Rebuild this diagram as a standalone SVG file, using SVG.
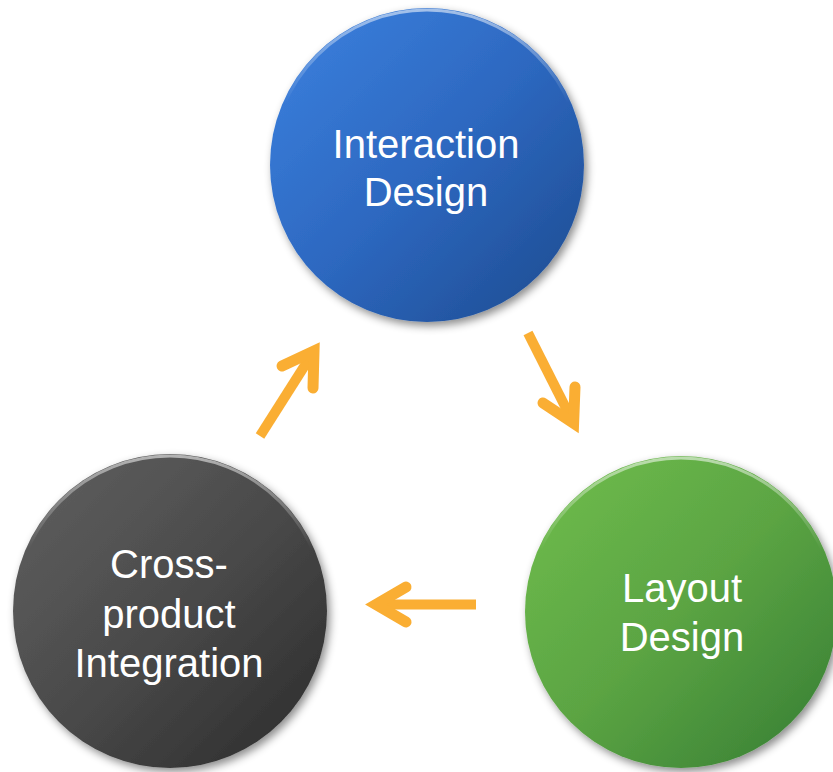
<svg xmlns="http://www.w3.org/2000/svg" width="833" height="772" viewBox="0 0 833 772">
<defs>
<style>
.lbl{font-family:"Liberation Sans",Arial,sans-serif;font-size:40px;fill:#ffffff;text-anchor:middle}
.arr{fill:none;stroke:#FAAE33;stroke-width:11;stroke-linecap:round;stroke-linejoin:miter;stroke-miterlimit:10}
.shaft{fill:none;stroke:#FAAE33;stroke-width:10;stroke-linecap:butt}
.rim{fill:none;stroke:url(#rimG);stroke-width:3}
</style>
<filter id="sh" x="-20%" y="-20%" width="140%" height="140%">
<feDropShadow dx="3" dy="4" stdDeviation="4" flood-color="#000" flood-opacity="0.45"/>
</filter>
<linearGradient id="blueG" x1="0" y1="0" x2="1" y2="1">
<stop offset="0" stop-color="#3c82e0"/>
<stop offset="0.5" stop-color="#2d68c0"/>
<stop offset="1" stop-color="#1d4a8e"/>
</linearGradient>
<linearGradient id="greenG" x1="0" y1="0" x2="1" y2="1">
<stop offset="0" stop-color="#70be4c"/>
<stop offset="0.5" stop-color="#5ba443"/>
<stop offset="1" stop-color="#357c33"/>
</linearGradient>
<linearGradient id="darkG" x1="0" y1="0" x2="1" y2="1">
<stop offset="0" stop-color="#616161"/>
<stop offset="0.5" stop-color="#4a4a4a"/>
<stop offset="1" stop-color="#2a2a2a"/>
</linearGradient>
<linearGradient id="rimG" x1="0" y1="0" x2="0" y2="1">
<stop offset="0" stop-color="#ffffff" stop-opacity="0.55"/>
<stop offset="0.3" stop-color="#ffffff" stop-opacity="0"/>
<stop offset="1" stop-color="#ffffff" stop-opacity="0"/>
</linearGradient>
</defs>
<g id="node-interaction">
<circle cx="427" cy="165" r="157" fill="url(#blueG)" filter="url(#sh)"/>
<circle class="rim" cx="427" cy="165" r="155"/>
<text class="lbl" x="426" y="158">Interaction</text>
<text class="lbl" x="426" y="206">Design</text>
</g>
<g id="node-layout">
<circle cx="681" cy="612" r="156" fill="url(#greenG)" filter="url(#sh)"/>
<circle class="rim" cx="681" cy="612" r="154"/>
<text class="lbl" x="682" y="602">Layout</text>
<text class="lbl" x="682" y="651">Design</text>
</g>
<g id="node-cross">
<circle cx="170" cy="611" r="157" fill="url(#darkG)" filter="url(#sh)"/>
<circle class="rim" cx="170" cy="611" r="155"/>
<text class="lbl" x="169" y="578">Cross-</text>
<text class="lbl" x="169" y="628">product</text>
<text class="lbl" x="169" y="677">Integration</text>
</g>
<g id="connectors">
<path class="shaft" d="M260 436 L314 351"/>
<path class="arr" d="M282 366 L314 351 L313 388"/>
<path class="shaft" d="M528 333 L573.6 423.3"/>
<path class="arr" d="M575 387 L573.6 423.3 L543 403"/>
<path class="shaft" d="M476 604.5 L376 604.5"/>
<path class="arr" d="M406 587 L376 604.5 L406 622"/>
</g>
</svg>
